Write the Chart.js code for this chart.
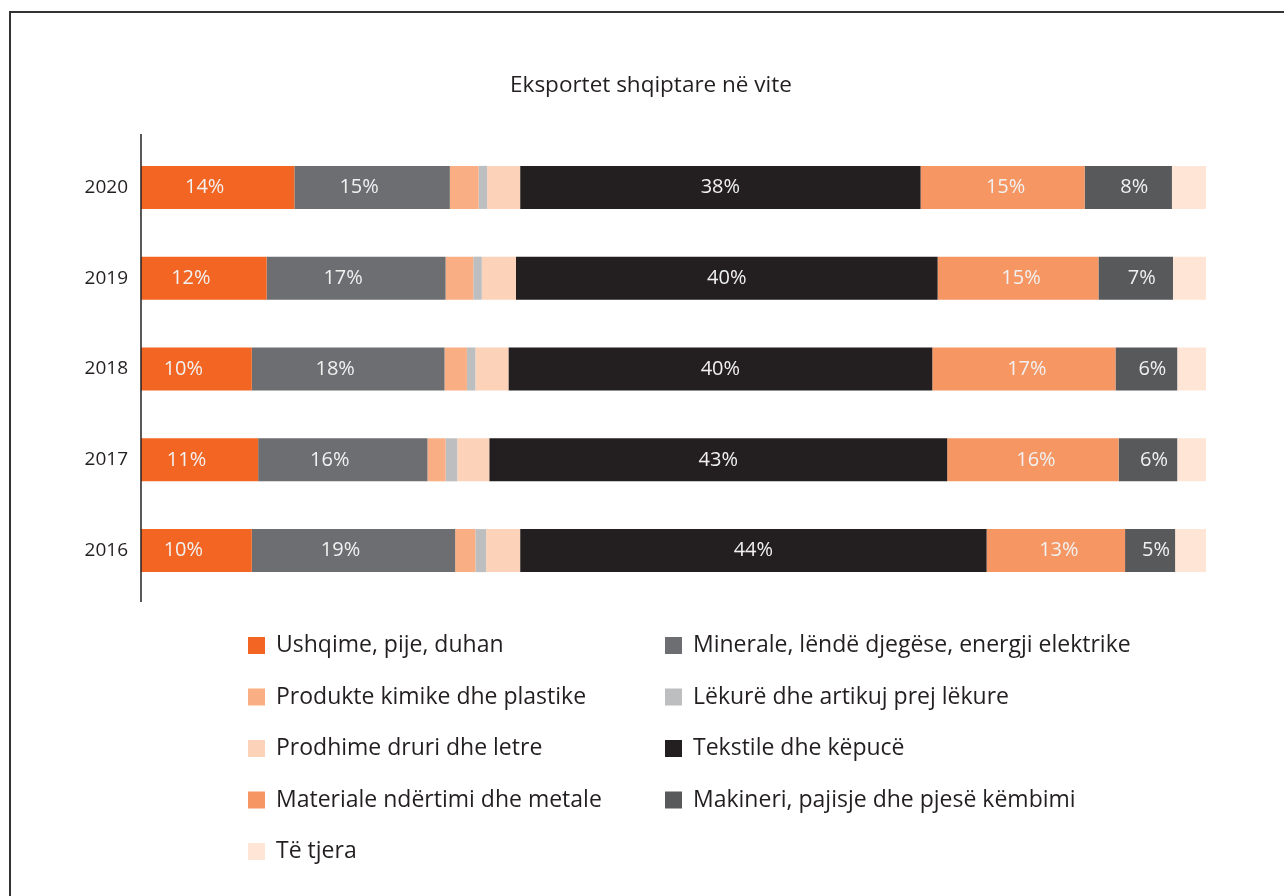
<!DOCTYPE html>
<html>
<head>
<meta charset="utf-8">
<title>Eksportet shqiptare në vite</title>
<script src="https://cdn.jsdelivr.net/npm/chart.js@4.4.1/dist/chart.umd.min.js"></script>
<style>
    body { margin: 0; background: #fff; overflow: hidden; }
    #wrap { position: relative; width: 1284px; height: 896px; }
    #frame { position: absolute; left: 9px; top: 11px; width: 1300px; height: 900px;
             border: 2px solid #333; box-sizing: border-box; pointer-events: none; }
</style>
</head>
<body>
<div id="wrap">
    <canvas id="exportChart" width="1284" height="896"></canvas>
    <div id="frame"></div>
</div>
<script>
// Years, top to bottom
var years = ['2020', '2019', '2018', '2017', '2016'];

// Share of exports (%), one array per product group
var ushqime   = [14.4, 11.8, 10.4, 11.0, 10.4];
var minerale  = [14.6, 16.8, 18.1, 15.9, 19.1];
var kimike    = [2.7, 2.6, 2.1, 1.7, 1.9];
var lekure    = [0.8, 0.8, 0.8, 1.1, 1.0];
var druri     = [3.1, 3.2, 3.1, 3.0, 3.2];
var tekstile  = [37.6, 39.6, 39.8, 43.0, 43.8];
var materiale = [15.4, 15.1, 17.2, 16.1, 13.0];
var makineri  = [8.2, 7.0, 5.8, 5.5, 4.7];
var tjera     = [3.2, 3.1, 2.7, 2.7, 2.9];

var seriesNames = [
    'Ushqime, pije, duhan',
    'Minerale, lëndë djegëse, energji elektrike',
    'Produkte kimike dhe plastike',
    'Lëkurë dhe artikuj prej lëkure',
    'Prodhime druri dhe letre',
    'Tekstile dhe këpucë',
    'Materiale ndërtimi dhe metale',
    'Makineri, pajisje dhe pjesë këmbimi',
    'Të tjera'
];
var seriesValues = [ushqime, minerale, kimike, lekure, druri, tekstile, materiale, makineri, tjera];
var seriesColors = ['#F26522', '#6D6E71', '#F9AE83', '#BCBEC0', '#FCD3B9',
                    '#231F20', '#F59663', '#58595B', '#FEE5D6'];
// which groups carry a percentage label
var labelled = [true, true, false, false, false, true, true, true, false];

var FONT = "'Open Sans', 'Noto Sans', sans-serif";
var TEXT = '#231F20';
var TITLE = 'Eksportet shqiptare në vite';

// percentage labels inside bars (small nudges as in the original)
var labelShift = [-13, -13, 0, 0, 0, 0, 3, 6, 0];
var barLabels = {
    id: 'barLabels',
    afterDatasetsDraw: function(chart) {
        var ctx = chart.ctx;
        ctx.save();
        ctx.font = '20px ' + FONT;
        ctx.fillStyle = '#F1F1F1';
        ctx.textAlign = 'center';
        ctx.textBaseline = 'middle';
        chart.data.datasets.forEach(function(ds, i) {
            if (!labelled[i]) return;
            chart.getDatasetMeta(i).data.forEach(function(bar, j) {
                var cx = (bar.x + bar.base) / 2 + labelShift[i];
                ctx.fillText(Math.round(ds.data[j]) + '%', cx, bar.y);
            });
        });
        ctx.restore();
    }
};

// vertical axis line, a bit longer than the plot area
var axisLine = {
    id: 'axisLine',
    afterDraw: function(chart) {
        var a = chart.chartArea, ctx = chart.ctx;
        ctx.save();
        ctx.strokeStyle = TEXT;
        ctx.lineWidth = 1.5;
        ctx.beginPath();
        ctx.moveTo(a.left, a.top - 8);
        ctx.lineTo(a.left, a.bottom + 6);
        ctx.stroke();
        ctx.restore();
    }
};

// title drawn by hand so it sits where the original has it
var titleText = {
    id: 'titleText',
    afterDraw: function(chart) {
        var ctx = chart.ctx;
        ctx.save();
        ctx.font = '22.5px ' + FONT;
        ctx.fillStyle = TEXT;
        ctx.textAlign = 'center';
        ctx.textBaseline = 'middle';
        ctx.fillText(TITLE, 651, 86);
        ctx.restore();
    }
};

// two-column legend under the bars
var gridLegend = {
    id: 'gridLegend',
    afterDraw: function(chart) {
        var ctx = chart.ctx;
        var colX = [248, 665], top = 637, rowH = 51.5, box = 17;
        ctx.save();
        ctx.font = '23px ' + FONT;
        ctx.textBaseline = 'middle';
        ctx.textAlign = 'left';
        chart.data.datasets.forEach(function(ds, i) {
            var x = colX[i % 2], y = top + Math.floor(i / 2) * rowH;
            ctx.fillStyle = ds.backgroundColor;
            ctx.fillRect(x, y, box, box);
            ctx.fillStyle = TEXT;
            ctx.fillText(ds.label, x + 28, y + box / 2);
        });
        ctx.restore();
    }
};

var datasets = seriesNames.map(function(name, i) {
    return {
        label: name,
        data: seriesValues[i],
        backgroundColor: seriesColors[i],
        borderWidth: 0,
        categoryPercentage: 1,
        barPercentage: 0.474
    };
});

var ctx = document.getElementById('exportChart').getContext('2d');
var chart = new Chart(ctx, {
    type: 'bar',
    data: { labels: years, datasets: datasets },
    options: {
        indexAxis: 'y',
        responsive: false,
        animation: false,
        layout: { padding: { left: 60, right: 78, top: 142, bottom: 300 } },
        scales: {
            x: { stacked: true, min: 0, max: 100, display: false },
            y: {
                stacked: true,
                grid: { display: false, drawTicks: false },
                border: { display: false },
                ticks: { color: TEXT, font: { family: FONT, size: 19 }, padding: 13 },
                afterFit: function(scale) { scale.width = 81; }
            }
        },
        plugins: {
            legend: { display: false },
            tooltip: { enabled: false },
            title: { display: false }
        }
    },
    plugins: [barLabels, axisLine, titleText, gridLegend]
});
</script>
</body>
</html>
